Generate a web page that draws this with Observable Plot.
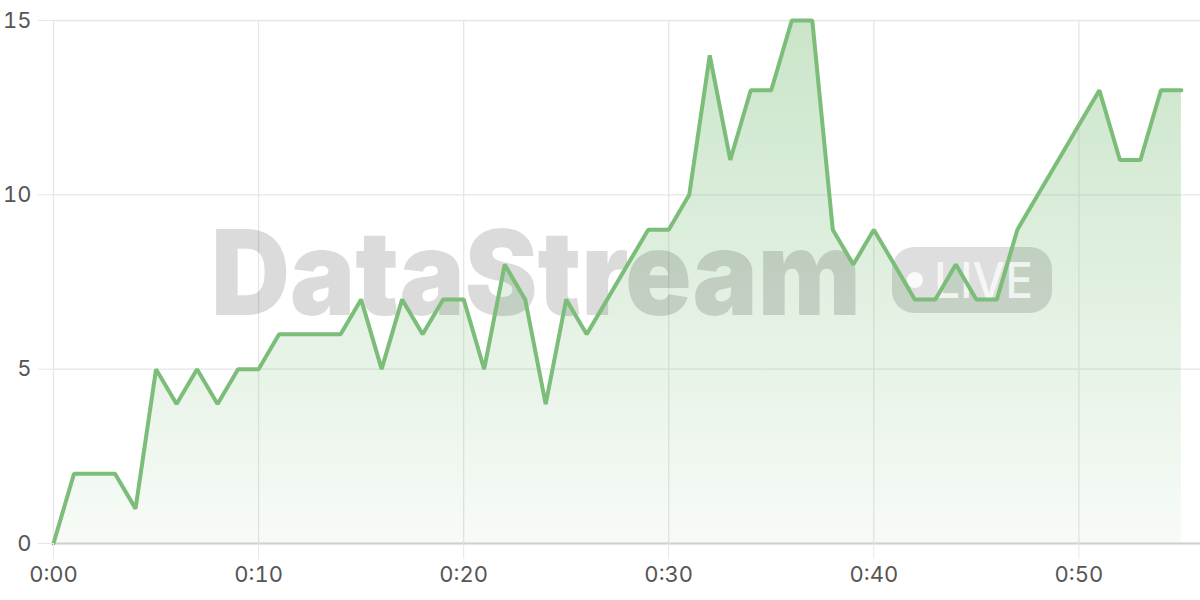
<!DOCTYPE html>
<html>
<head>
<meta charset="utf-8">
<script src="https://cdn.jsdelivr.net/npm/d3@7"></script>
<script src="https://cdn.jsdelivr.net/npm/@observablehq/plot@0.6"></script>
<style>
  html, body { margin: 0; padding: 0; background: #fff; }
  #chart { width: 1200px; height: 600px; }
</style>
</head>
<body>
<div id="chart"></div>
<script>
const minutes = d3.range(0, 56);
const values = [0,2,2,2,1,5,4,5,4,5,5,6,6,6,6,7,5,7,6,7,7,5,8,7,4,7,6,7,8,9,9,10,14,11,13,13,15,15,9,8,9,8,7,7,8,7,7,9,10,11,12,13,11,11,13,13];
const xTicks = [0, 10, 20, 30, 40, 50];
const yTicks = [0, 5, 10, 15];
const watermarkText = "DataStream";
const badgeText = "LIVE";

const data = minutes.map((m, i) => ({minute: m, value: values[i]}));
const fmt = m => `${Math.floor(m / 60)}:${String(m % 60).padStart(2, "0")}`;
const green = "#7bbd79";

const chart = Plot.plot({
  width: 1200,
  height: 600,
  marginLeft: 53,
  marginRight: 0,
  marginTop: 20,
  marginBottom: 57,
  style: {fontFamily: "Inter, 'Noto Sans', sans-serif", fontSize: "22px", background: "#fff"},
  x: {domain: [0, 55.93]},
  y: {domain: [0, 15]},
  marks: [
    Plot.gridY(yTicks, {stroke: "#e6e6e6", strokeOpacity: 1, strokeWidth: 1.3}),
    Plot.gridX(xTicks, {stroke: "#e6e6e6", strokeOpacity: 1, strokeWidth: 1.3}),
    Plot.areaY(data, {x: "minute", y: "value", fill: "url(#areaGrad)"}),
    Plot.ruleY([0], {stroke: "#d0d0d0", strokeWidth: 2}),
    Plot.line(data, {x: "minute", y: "value", stroke: green, strokeWidth: 4, strokeLinejoin: "miter"}),
    Plot.axisY(yTicks, {tickSize: 15, tickPadding: 7, stroke: "#e6e6e6", fill: "#555", tickFormat: d => d, label: null, fontSize: 22}),
    Plot.axisX(xTicks, {tickSize: 16, tickPadding: 7, stroke: "#e6e6e6", fill: "#555", tickFormat: fmt, label: null, fontSize: 22})
  ]
});

document.getElementById("chart").appendChild(chart);

// gradient definition for the area fill
const svg = d3.select(chart);
const defs = svg.insert("defs", ":first-child");
const grad = defs.append("linearGradient")
  .attr("id", "areaGrad").attr("x1", 0).attr("y1", 0).attr("x2", 0).attr("y2", 1);
grad.append("stop").attr("offset", "0%").attr("stop-color", green).attr("stop-opacity", 0.4);
grad.append("stop").attr("offset", "100%").attr("stop-color", green).attr("stop-opacity", 0.06);

// watermark placed under the line
const lineG = chart.querySelector('g[aria-label="line"]');
const wm = document.createElementNS("http://www.w3.org/2000/svg", "g");
chart.insertBefore(wm, lineG);
const w = d3.select(wm).attr("pointer-events", "none").attr("text-anchor", "start");
w.append("text")
  .attr("x", 211).attr("y", 315)
  .attr("text-anchor", "start")
  .attr("font-family", "Inter, 'Noto Sans', sans-serif")
  .attr("font-weight", 900)
  .attr("font-size", 118)
  .attr("textLength", 650)
  .attr("lengthAdjust", "spacingAndGlyphs")
  .attr("fill", "rgba(0,0,0,0.14)")
  .text(watermarkText);
w.append("rect")
  .attr("x", 892).attr("y", 247).attr("width", 160).attr("height", 66).attr("rx", 22)
  .attr("fill", "rgba(0,0,0,0.13)");
w.append("circle")
  .attr("cx", 915).attr("cy", 280).attr("r", 8)
  .attr("fill", "rgba(255,255,255,0.85)");
w.append("text")
  .attr("x", 934).attr("y", 298)
  .attr("text-anchor", "start")
  .attr("font-family", "Inter, 'Noto Sans', sans-serif")
  .attr("font-weight", 500)
  .attr("font-size", 49)
  .attr("textLength", 99)
  .attr("lengthAdjust", "spacingAndGlyphs")
  .attr("fill", "rgba(255,255,255,0.75)")
  .text(badgeText);
</script>
</body>
</html>
